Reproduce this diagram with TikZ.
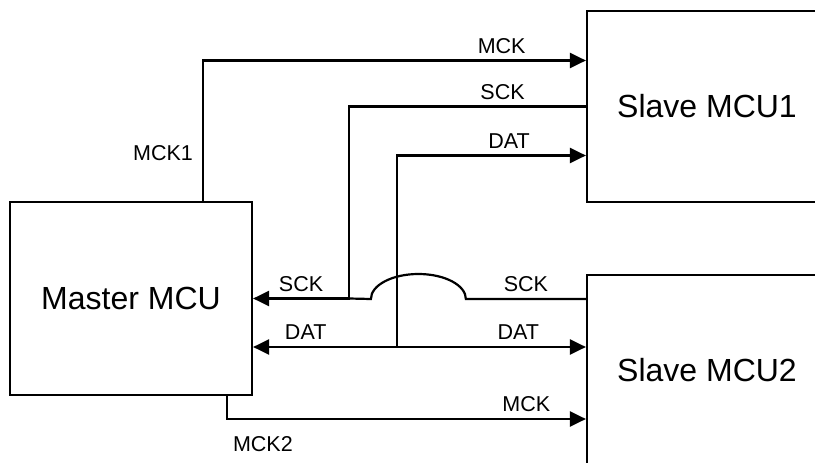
\documentclass[tikz,border=0pt]{standalone}
\usepackage{fontspec}
\setmainfont{Liberation Sans}
\usepackage{tikz}
\usetikzlibrary{arrows.meta, positioning}

\begin{document}
\begin{tikzpicture}[
  x=1pt, y=-1pt,
  mcubox/.style={rectangle, draw=black, line width=2.2pt, inner sep=0pt,
                 font=\fontsize{32}{37}\selectfont},
  lbl/.style={inner sep=0pt, font=\fontsize{21.5}{25}\selectfont},
  sig/.style={line width=2.2pt},
  arrow/.style={sig, -{Triangle[length=16pt, width=15pt]}},
  bothway/.style={sig, {Triangle[length=16pt, width=15pt]}-{Triangle[length=16pt, width=15pt]}}
]
\useasboundingbox[fill=white] (0,0) rectangle (815,463);
\clip (0,0) rectangle (815,463);
\node[mcubox, minimum width=242pt, minimum height=193pt] (master) at (131,298.5) {Master MCU};
\node[mcubox, minimum width=240pt, minimum height=191.5pt] (slave1) at (707,106.5) {Slave MCU1};
\node[mcubox, minimum width=240pt, minimum height=190pt] (slave2) at (707,370) {Slave MCU2};
\draw[arrow] ([xshift=72pt]master.north) |-
  node[lbl, pos=0.169, left=9pt] {MCK1}
  node[lbl, pos=0.89, above=6pt] {MCK} ([yshift=46pt]slave1.west);
\draw[arrow] (slave1.west) -| node[lbl, pos=0.176, above=6pt] {SCK} ([xshift=96pt]master.east)
  -- node[lbl, midway, above=6pt] {SCK} (master.east);
\draw[sig] ([yshift=71pt]slave2.west) -- node[lbl, midway, above=6pt] {SCK} ++(-120,0)
  arc[start angle=0, end angle=180, x radius=47.5pt, y radius=25pt] -- ([xshift=96pt]master.east);
\draw[bothway] ([yshift=-48.5pt]master.east) --
  node[lbl, pos=0.158, above=6pt] {DAT}
  node[lbl, pos=0.797, above=6pt] {DAT} ([yshift=23pt]slave2.west);
\draw[arrow] ([xshift=143.5pt, yshift=-48.5pt]master.east) |-
  node[lbl, pos=0.797, above=6pt] {DAT} ([yshift=-49pt]slave1.west);
\draw[arrow] ([xshift=96pt]master.south) |-
  node[lbl, pos=0.917, above=6pt] {MCK}
  node[lbl, pos=0.55, below=16pt] {MCK2} ([yshift=-49pt]slave2.west);
\end{tikzpicture}
\end{document}
